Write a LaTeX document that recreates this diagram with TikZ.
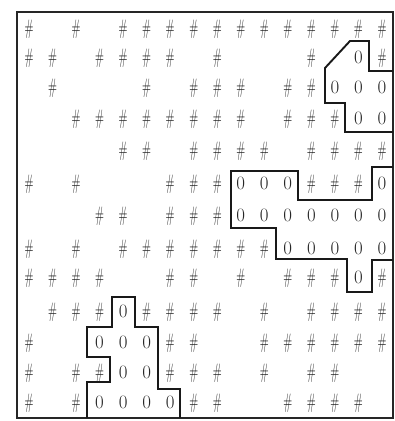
\documentclass[tikz,border=0pt]{standalone}
\begin{document}
\begin{tikzpicture}[x=1bp,y=-1bp,
  hm/.style={text=black!88, inner sep=0pt, font=\fontsize{21}{22}\selectfont},
  zm/.style={text=black!85, inner sep=0pt, font=\fontsize{19}{20}\selectfont},
  framebox/.style={draw=black!85, line width=1.3bp},
  outline/.style={draw=black!90, line width=1.9bp, line join=miter}]
\useasboundingbox (0,0) rectangle (395,421);
\newcommand\hrowx[2]{\foreach \c in {#2} {\node[hm] at ({29+23.53*\c},{#1+1}) {\scalebox{0.55}[1]{\#}};}}
\newcommand\zrowx[2]{\foreach \c in {#2} {\node[zm] at ({29+23.53*\c},#1) {0};}}
% frame
\draw[framebox] (17,12) rectangle (393,418);
% row A
\hrowx{28}{0,2,4,5,6,7,8,9,10,11,12,13,14,15}
% row B
\hrowx{57}{0,1,3,4,5,6,8,12,15}
\zrowx{57}{14}
% row C
\hrowx{87}{1,5,7,8,9,11,12}
\zrowx{87}{13,14,15}
% row D
\hrowx{118}{2,3,4,5,6,7,8,9,11,12,13}
\zrowx{118}{14,15}
% row E
\hrowx{150}{4,5,7,8,9,10,12,13,14,15}
% row F
\hrowx{183}{0,2,6,7,8,12,13,14}
\zrowx{183}{9,10,11,15}
% row G
\hrowx{215}{3,4,6,7,8}
\zrowx{215}{9,10,11,12,13,14,15}
% row H
\hrowx{248}{0,2,4,5,6,7,8,9,10}
\zrowx{248}{11,12,13,14,15}
% row I
\hrowx{277}{0,1,2,3,6,7,9,11,12,13,15}
\zrowx{277}{14}
% row J
\hrowx{311}{1,2,3,5,6,7,8,10,12,13,14,15}
\zrowx{311}{4}
% row K
\hrowx{342}{0,6,7,10,11,12,13,14,15}
\zrowx{342}{3,4,5}
% row L
\hrowx{372}{0,2,3,6,7,8,10,12,13}
\zrowx{372}{4,5}
% row M
\hrowx{402}{0,2,7,8,11,12,13,14}
\zrowx{402}{3,4,5,6}
% region outlines
\draw[outline] (393,71) -- (369,71) -- (369,41) -- (350,41) -- (325,68) -- (325,103) -- (345,103) -- (345,132) -- (393,132);
\draw[outline] (393,167) -- (372,167) -- (372,200) -- (298,200) -- (298,171) -- (231,171) -- (231,228) -- (276,228) -- (276,259) -- (347,259) -- (347,292) -- (372,292) -- (372,260) -- (393,260);
\draw[outline] (87,418) -- (87,382) -- (110,382) -- (110,357) -- (87,357) -- (87,327) -- (112,327) -- (112,297) -- (135,297) -- (135,327) -- (158,327) -- (158,389) -- (180,389) -- (180,418);
\end{tikzpicture}
\end{document}
